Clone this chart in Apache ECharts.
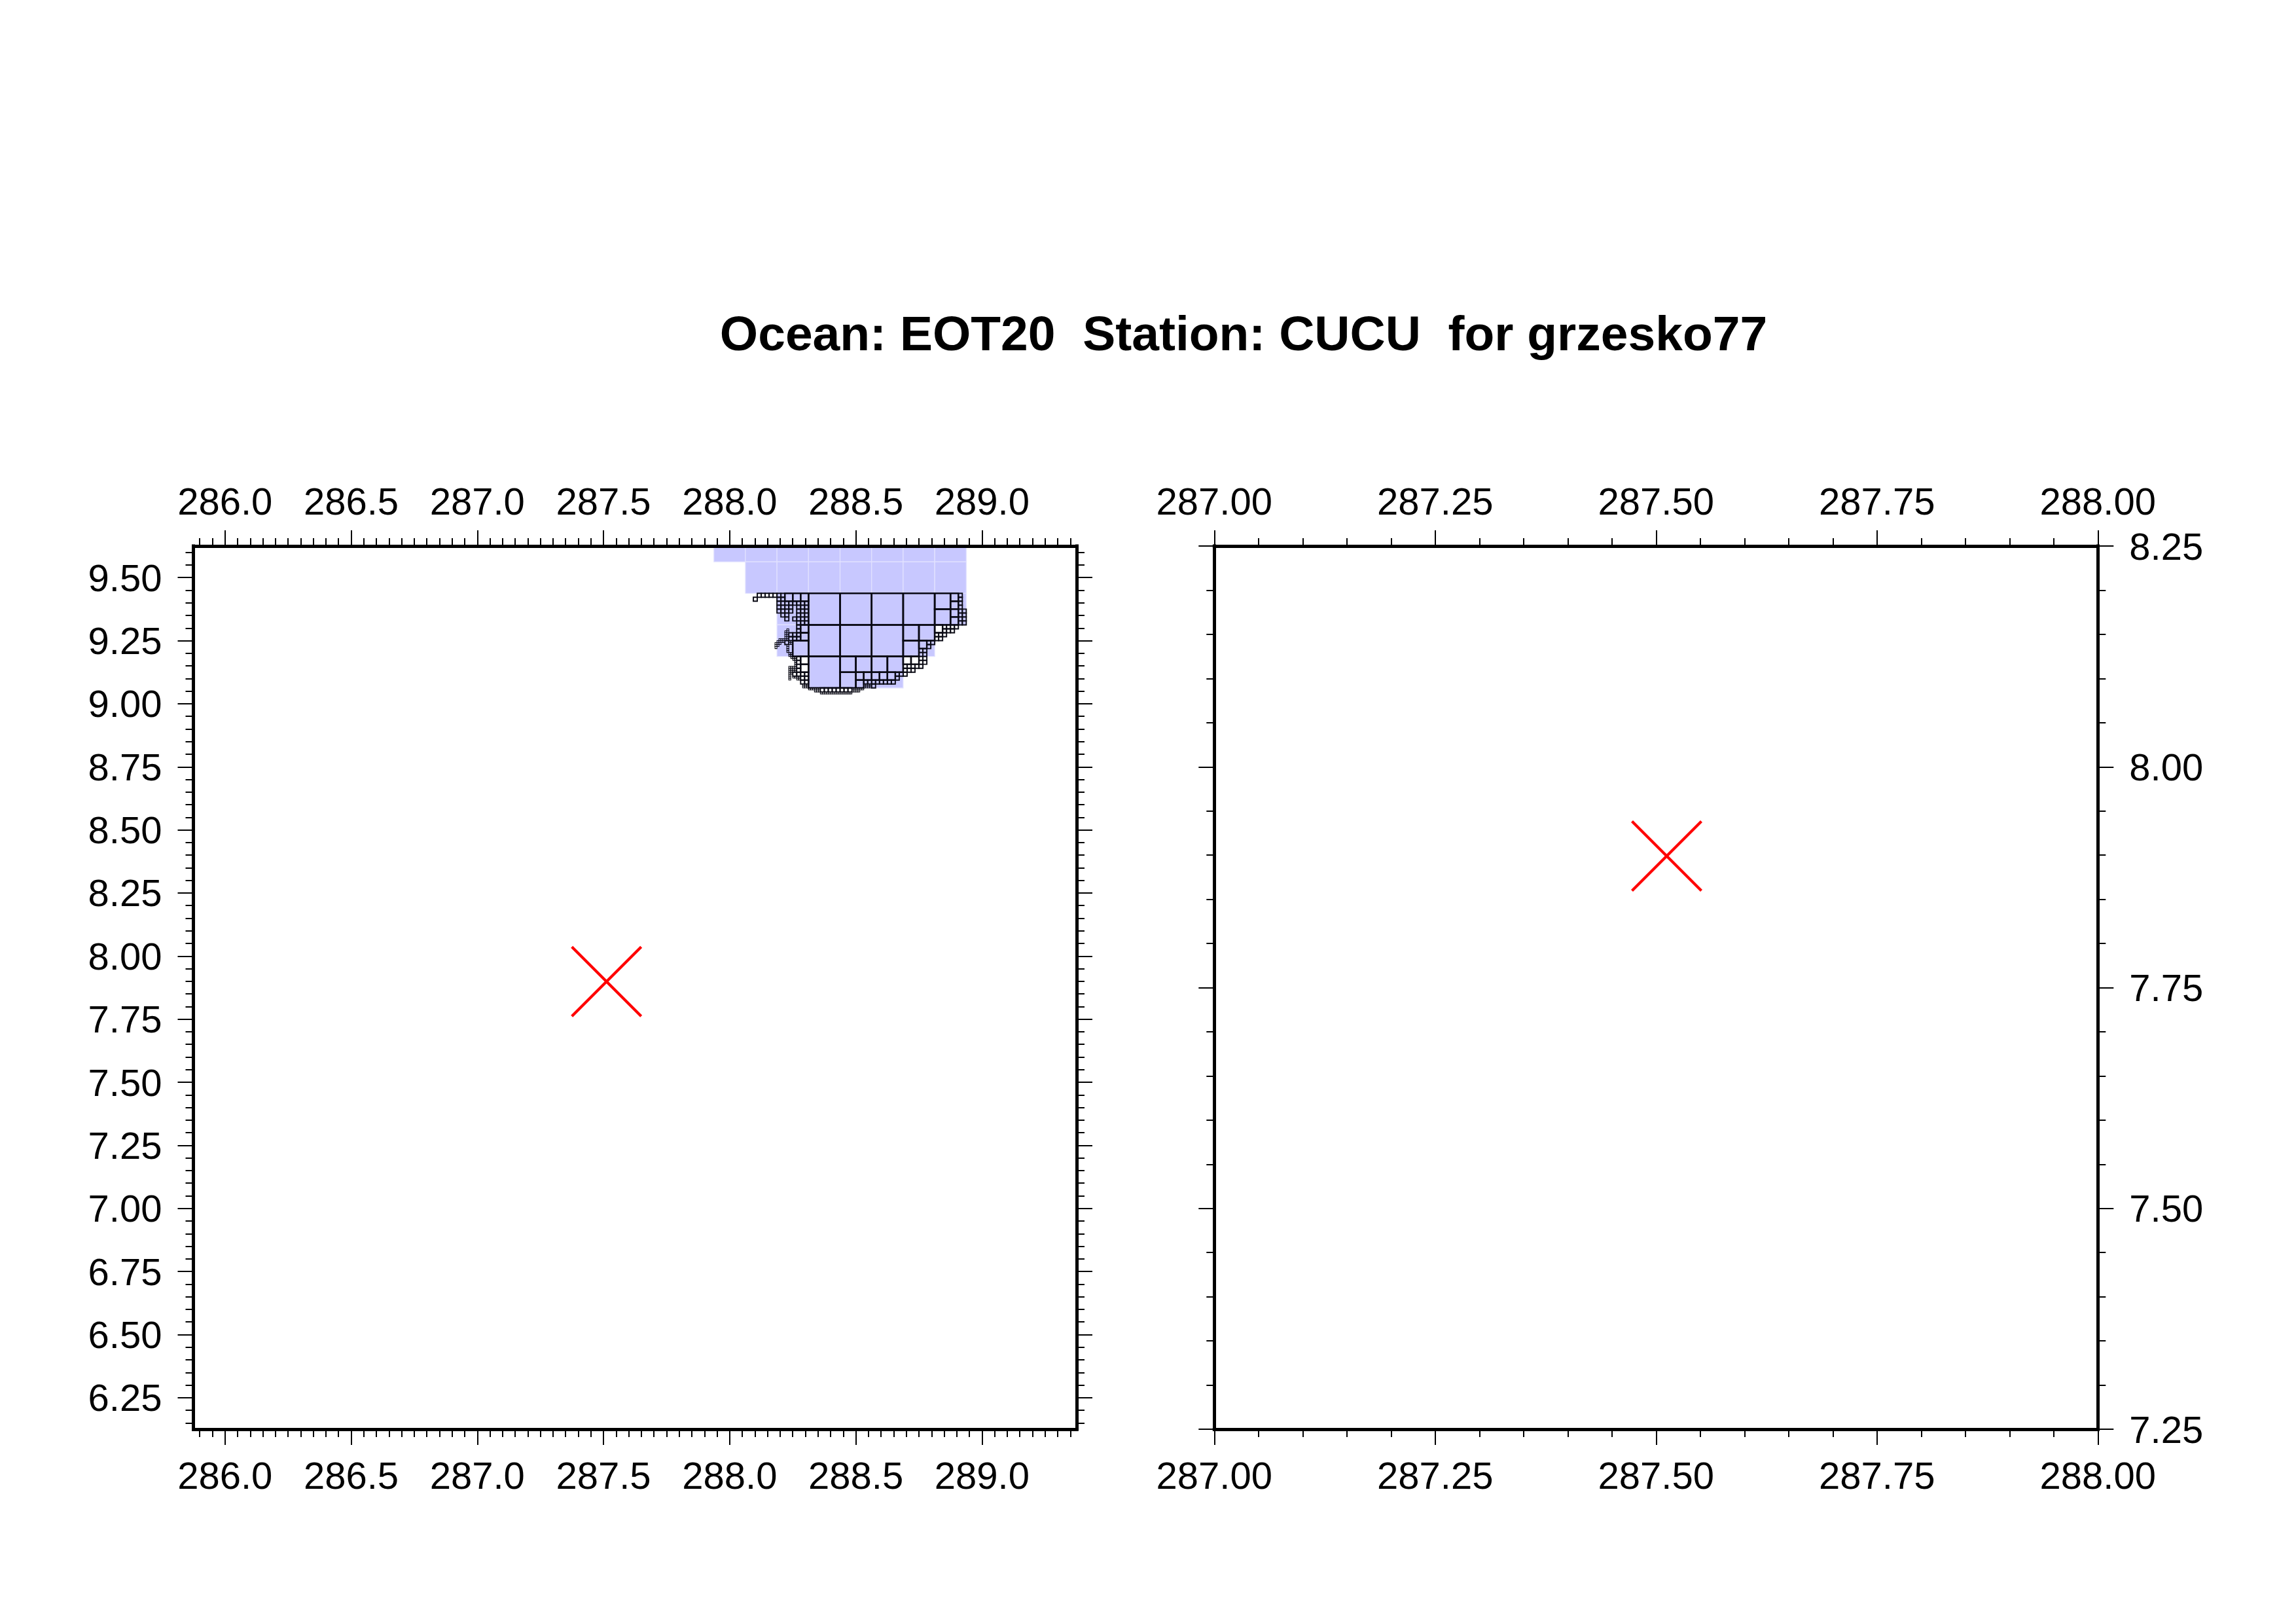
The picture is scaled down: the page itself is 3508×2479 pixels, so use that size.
<!DOCTYPE html>
<html><head><meta charset="utf-8">
<style>html,body{margin:0;padding:0;background:#fff}#c{width:3508px;height:2479px}</style>
<script src="https://cdn.jsdelivr.net/npm/echarts@6/dist/echarts.min.js"></script>
</head><body><div id="c"></div>
<script>
var titleText = 'Ocean: EOT20  Station: CUCU  for grzesko77';
var station = [287.512, 7.899];
var leftXRange = [285.875, 289.375];
var leftYRange = [6.125, 9.625];
var rightXRange = [287, 288];
var rightYRange = [7.25, 8.25];
var leftXLabels = [286.0, 286.5, 287.0, 287.5, 288.0, 288.5, 289.0];
var leftYLabels = [6.25, 6.5, 6.75, 7.0, 7.25, 7.5, 7.75, 8.0, 8.25, 8.5, 8.75, 9.0, 9.25, 9.5];
var rightXLabels = [287.0, 287.25, 287.5, 287.75, 288.0];
var rightYLabels = [7.25, 7.5, 7.75, 8.0, 8.25];
var minorStep = 0.05;

// Mesh: indices count 1/64 degree east and south from this corner
var meshLon = 287.9375, meshLat = 9.4375, meshStep = 1 / 64;

// [row, [columns]] mesh indices of the north-west corner of each cell
var blueCells = [
  [-16, [0, 8, 16, 24, 32, 40, 48, 56]],
  [-8, [8, 16, 24, 32, 40, 48, 56]],
  [0, [16, 24, 32, 40, 48, 56]],
  [8, [16, 24, 32, 40, 48]],
  [16, [24, 32, 40]]
];
var cells8 = [[0, [24, 32, 40, 48]], [8, [24, 32, 40]], [16, [24]]];
var cells4 = [[0, [56]], [4, [56]], [8, [48, 52]], [12, [20, 48]], [16, [32, 36, 40, 44]], [20, [32]]];
var cells2 = [
  [0, [18, 20, 22, 60]], [2, [60]], [4, [60]], [6, [60]], [8, [22, 56]], [10, [22]],
  [12, [52]], [16, [22, 48, 50]], [18, [22]], [20, [36, 38, 40, 42, 44]], [22, [36]]
];
var cells1 = [
  [0, [11, 12, 13, 14, 15, 16, 17, 62]],
  [1, [10, 16, 17, 62]],
  [2, [16, 17, 18, 19, 20, 21, 22, 23, 62]],
  [3, [16, 17, 18, 19, 21, 22, 23, 62]],
  [4, [16, 17, 18, 19, 21, 22, 23, 62, 63]],
  [5, [17, 18, 21, 22, 23, 62, 63]],
  [6, [18, 20, 21, 22, 23, 62, 63]],
  [7, [21, 22, 23, 62, 63]],
  [8, [21, 58, 59, 60, 61]],
  [9, [21, 58, 59, 60]],
  [10, [19, 20, 21, 56, 57, 58]],
  [11, [19, 20, 21, 56, 57]],
  [12, [18, 54, 55]],
  [13, [54]],
  [14, [52, 53]],
  [15, [52, 53]],
  [16, [21, 52, 53]],
  [17, [21, 52, 53]],
  [18, [21, 48, 49, 50, 51, 52]],
  [19, [21, 48, 49, 50]],
  [20, [20, 21, 22, 23, 46, 47, 48]],
  [21, [22, 23, 46]],
  [22, [22, 23, 38, 39, 40, 41, 42, 43, 44, 45]],
  [23, [40]],
  [24, [27, 28, 29, 30, 31, 32, 33, 34]]
];
var cellsHalf = [
  [9, [18.5]],
  [9.5, [18, 18.5]],
  [10, [18, 18.5]],
  [10.5, [18, 18.5]],
  [11, [18, 18.5]],
  [11.5, [16.5, 17, 17.5, 18, 18.5]],
  [12, [16, 16.5, 17, 17.5, 19, 19.5]],
  [12.5, [15.5, 16, 16.5, 19, 19.5]],
  [13, [15.5, 16, 18.5]],
  [13.5, [15.5, 18.5]],
  [14, [18.5]],
  [14.5, [18.5]],
  [15, [19, 19.5]],
  [15.5, [19, 19.5]],
  [16, [19.5, 20, 20.5]],
  [16.5, [20, 20.5]],
  [17, [20.5]],
  [17.5, [20.5]],
  [18, [20.5]],
  [18.5, [19, 19.5, 20, 20.5]],
  [19, [19, 19.5, 20, 20.5]],
  [19.5, [19, 19.5, 20, 20.5]],
  [20, [19, 19.5]],
  [20.5, [19]],
  [21, [19, 20, 20.5, 21, 21.5]],
  [21.5, [19, 21, 21.5]],
  [23, [22.5, 23, 23.5, 38, 38.5, 39, 39.5]],
  [23.5, [22.5, 23, 23.5, 38, 38.5, 39, 39.5]],
  [24, [24, 24.5, 25, 25.5, 26, 26.5, 35, 35.5, 36, 36.5, 37, 37.5]],
  [24.5, [25.5, 26, 26.5, 35, 35.5, 36, 36.5]],
  [25, [27, 27.5, 28, 28.5, 29, 29.5, 30, 30.5, 31, 31.5, 32, 32.5, 33, 33.5, 34, 34.5]]
];

var FONT = 'Liberation Sans';
var chart = echarts.init(document.getElementById('c'), null, {width: 3508, height: 2479, devicePixelRatio: 1});

function toRects(list, size) {
  var out = [];
  list.forEach(function (r) {
    r[1].forEach(function (c) {
      out.push([meshLon + c * meshStep, meshLat - r[0] * meshStep,
                meshLon + (c + size) * meshStep, meshLat - (r[0] + size) * meshStep]);
    });
  });
  return out;
}
function rectSeries(list, size, style, z) {
  return {
    type: 'custom', coordinateSystem: 'cartesian2d', xAxisIndex: 0, yAxisIndex: 0,
    clip: true, z: z, silent: true, animation: false,
    encode: {x: [0, 2], y: [1, 3]},
    data: toRects(list, size),
    renderItem: function (p, api) {
      var a = api.coord([api.value(0), api.value(1)]);
      var b = api.coord([api.value(2), api.value(3)]);
      return {type: 'rect', shape: {x: a[0], y: a[1], width: b[0] - a[0], height: b[1] - a[1]}, style: style};
    }
  };
}
function crossSeries(xi, yi) {
  return {
    type: 'custom', coordinateSystem: 'cartesian2d', xAxisIndex: xi, yAxisIndex: yi,
    z: 4, silent: true, animation: false, data: [station],
    renderItem: function (p, api) {
      var c = api.coord([api.value(0), api.value(1)]);
      var h = 53;
      var st = {stroke: '#ff0000', lineWidth: 4.2, fill: null};
      return {type: 'group', children: [
        {type: 'line', shape: {x1: c[0] - h, y1: c[1] - h, x2: c[0] + h, y2: c[1] + h}, style: st},
        {type: 'line', shape: {x1: c[0] - h, y1: c[1] + h, x2: c[0] + h, y2: c[1] - h}, style: st}
      ]};
    }
  };
}
function minorValues(range) {
  var out = [];
  var first = Math.ceil(range[0] / minorStep - 1e-9);
  var last = Math.floor(range[1] / minorStep + 1e-9);
  for (var i = first; i <= last; i++) out.push(+(i * minorStep).toFixed(4));
  return out;
}
function makeAxis(gridIndex, position, range, values, digits, showLabels, isMajor, margin, shifted) {
  return {
    type: 'value', gridIndex: gridIndex, position: position, min: range[0], max: range[1], z: 6,
    splitLine: {show: false}, minorTick: {show: false}, silent: true,
    axisLine: {show: true, onZero: false, lineStyle: {color: '#000', width: isMajor ? 5 : 0, cap: 'square'}},
    axisTick: {show: true, inside: false, customValues: values, length: isMajor ? 24 : 12,
      lineStyle: {color: '#000', width: 2}},
    axisLabel: showLabels ? {
      show: true, customValues: values, margin: margin,
      fontFamily: FONT, fontSize: 58, color: '#000', hideOverlap: false,
      rich: {t: {fontFamily: FONT, fontSize: 58, color: '#000', padding: [9, 0, 0, 0]}},
      formatter: function (v) {
        var s = Number(v).toFixed(digits);
        return shifted ? '{t|' + s + '}' : s;
      }
    } : {show: false}
  };
}
var G = [295.5, 834, 1349.5, 1349];
var H = [1855.3, 834, 1350, 1349];
function gridOf(r) { return {left: r[0], top: r[1], width: r[2], height: r[3], containLabel: false, show: false}; }

var option = {
  backgroundColor: '#fff',
  animation: false,
  title: {text: titleText, left: 1895, top: 509, textAlign: 'center', textVerticalAlign: 'middle',
    textStyle: {fontFamily: FONT, fontWeight: 'bold', fontSize: 75, color: '#000'}},
  grid: [gridOf(G), gridOf(G), gridOf(H), gridOf(H)],
  xAxis: [
    makeAxis(0, 'bottom', leftXRange, leftXLabels, 1, true, true, 46),
    makeAxis(0, 'top', leftXRange, leftXLabels, 1, true, true, 35),
    makeAxis(1, 'bottom', leftXRange, minorValues(leftXRange), 1, false, false),
    makeAxis(1, 'top', leftXRange, minorValues(leftXRange), 1, false, false),
    makeAxis(2, 'bottom', rightXRange, rightXLabels, 2, true, true, 46),
    makeAxis(2, 'top', rightXRange, rightXLabels, 2, true, true, 35),
    makeAxis(3, 'bottom', rightXRange, minorValues(rightXRange), 2, false, false),
    makeAxis(3, 'top', rightXRange, minorValues(rightXRange), 2, false, false)
  ],
  yAxis: [
    makeAxis(0, 'left', leftYRange, leftYLabels, 2, true, true, 48, true),
    makeAxis(0, 'right', leftYRange, leftYLabels, 2, false, true),
    makeAxis(1, 'left', leftYRange, minorValues(leftYRange), 2, false, false),
    makeAxis(1, 'right', leftYRange, minorValues(leftYRange), 2, false, false),
    makeAxis(2, 'left', rightYRange, rightYLabels, 2, false, true),
    makeAxis(2, 'right', rightYRange, rightYLabels, 2, true, true, 48, true),
    makeAxis(3, 'left', rightYRange, minorValues(rightYRange), 2, false, false),
    makeAxis(3, 'right', rightYRange, minorValues(rightYRange), 2, false, false)
  ],
  series: [
    rectSeries(blueCells, 8, {fill: '#c8c8ff', stroke: '#e2e2ff', lineWidth: 1.2}, 2),
    rectSeries(cells8, 8, {fill: null, stroke: '#0a0a14', lineWidth: 2.6}, 3),
    rectSeries(cells4, 4, {fill: null, stroke: '#0a0a14', lineWidth: 2.6}, 3),
    rectSeries(cells2, 2, {fill: null, stroke: '#0a0a14', lineWidth: 2.4}, 3),
    rectSeries(cells1, 1, {fill: null, stroke: '#0a0a14', lineWidth: 1.9}, 3),
    rectSeries(cellsHalf, 0.5, {fill: null, stroke: '#0a0a14', lineWidth: 1.1}, 3),
    crossSeries(0, 0),
    crossSeries(4, 4)
  ]
};
chart.setOption(option);
</script></body></html>
